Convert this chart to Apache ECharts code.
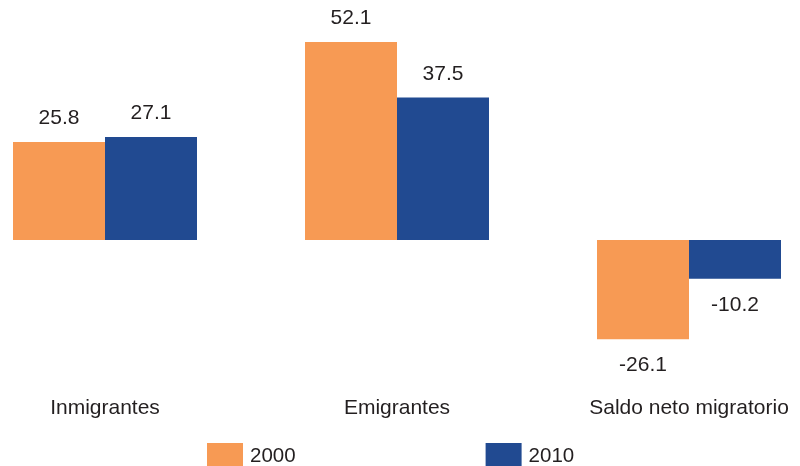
<!DOCTYPE html>
<html>
<head>
<meta charset="utf-8">
<script src="https://cdn.jsdelivr.net/npm/echarts@6/dist/echarts.min.js"></script>
<style>
html,body{margin:0;padding:0;background:#fff;}
#chart{width:800px;height:466px;}
</style>
</head>
<body>
<div id="chart"></div>
<script>
const categories = ['Inmigrantes', 'Emigrantes', 'Saldo neto migratorio'];
const seriesNames = ['2000', '2010'];
const values2000 = [25.8, 52.1, -26.1];
const values2010 = [27.1, 37.5, -10.2];
const colors = ['#F79A54', '#214A91'];

const FONT = 'Liberation Sans, Arial, sans-serif';

function toData(arr) {
  return arr.map(v => ({
    value: v,
    label: {
      position: v < 0 ? 'bottom' : 'top',
      distance: v < 0 ? 16 : 13
    }
  }));
}

const chart = echarts.init(document.getElementById('chart'), null, {renderer: 'canvas'});
chart.setOption({
  animation: false,
  backgroundColor: '#ffffff',
  grid: {left: -41, right: -35, top: 12, height: 380, containLabel: false, outerBoundsMode: 'none'},
  legend: {
    data: seriesNames,
    left: 202,
    top: 438,
    itemWidth: 36,
    itemHeight: 26,
    itemGap: 190,
    icon: 'rect',
    textStyle: {fontFamily: FONT, fontSize: 20.5, color: '#231F20', padding: [8, 0, 0, 2]}
  },
  xAxis: {
    type: 'category',
    data: categories,
    position: 'bottom',
    axisLine: {show: false, onZero: false},
    axisTick: {show: false},
    axisLabel: {fontFamily: FONT, fontSize: 21, color: '#231F20', margin: 6, interval: 0}
  },
  yAxis: {
    type: 'value',
    min: -40,
    max: 60,
    show: false,
    splitLine: {show: false}
  },
  series: [
    {
      name: seriesNames[0],
      type: 'bar',
      data: toData(values2000),
      barWidth: 92,
      barGap: '0%',
      itemStyle: {color: colors[0]},
      label: {show: true, fontFamily: FONT, fontSize: 21, color: '#231F20', formatter: p => p.value.toFixed(1)}
    },
    {
      name: seriesNames[1],
      type: 'bar',
      data: toData(values2010),
      barWidth: 92,
      barGap: '0%',
      itemStyle: {color: colors[1]},
      label: {show: true, fontFamily: FONT, fontSize: 21, color: '#231F20', formatter: p => p.value.toFixed(1)}
    }
  ]
});
</script>
</body>
</html>
